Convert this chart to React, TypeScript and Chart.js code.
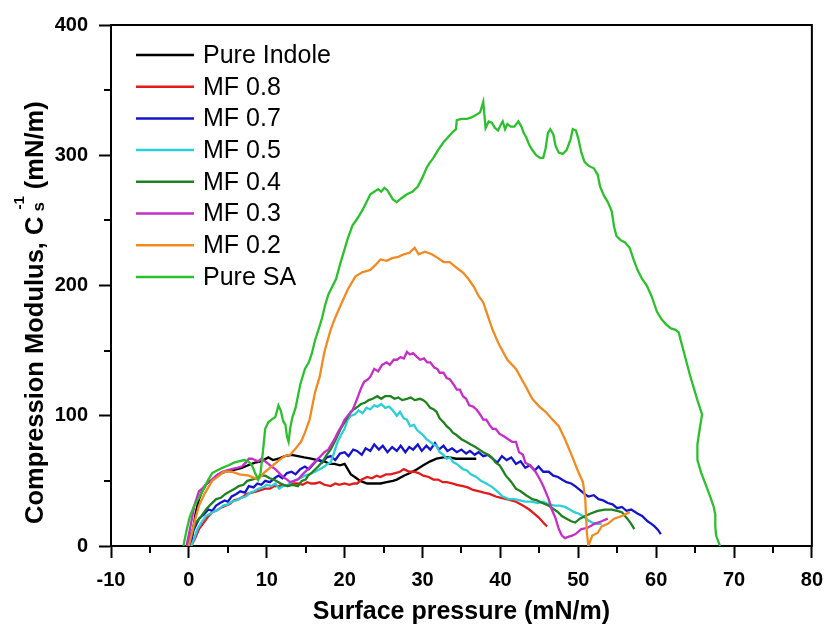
import React, { useEffect, useRef } from 'react';
import { Chart, registerables } from 'chart.js';

Chart.register(...registerables);

// ---------- Data ----------
const seriesNames = ['Pure Indole', 'MF 0.8', 'MF 0.7', 'MF 0.5', 'MF 0.4', 'MF 0.3', 'MF 0.2', 'Pure SA'];
const seriesColors = ['#000000', '#e31a1c', '#1414cc', '#2ccfd6', '#1e821e', '#c62fc6', '#f28a22', '#2cc12c'];

const xMin = -10;
const xMax = 80;
const xStep = 10;
const yMin = 0;
const yMax = 400;
const yStep = 100;

const xTitle = 'Surface pressure (mN/m)';
const yTitleMain = 'Compression Modulus, C';
const yTitleSub = 's';
const yTitleSup = '-1';
const yTitleTail = ' (mN/m)';

const pureIndole = [
  [0.2, 0], [0.5, 12], [0.9, 26], [1.3, 36], [1.7, 42], [2.3, 48], [3, 51], [3.8, 55], [4.7, 57], [5.5, 58],
  [6.2, 59], [6.8, 60], [7.6, 62], [8.5, 64], [9.3, 65], [10.2, 68], [10.8, 66], [11.5, 67], [12.3, 69], [13.2, 70],
  [14, 69], [14.8, 68], [15.7, 67], [16.5, 66], [17.4, 65], [18.1, 63], [18.7, 63], [19.4, 62], [20, 63], [20.4, 59],
  [20.8, 55], [21.3, 53], [22, 50], [22.9, 48], [23.8, 48], [24.6, 48], [25.4, 49], [26.2, 50], [26.7, 51], [27.6, 54],
  [28.4, 56], [29.3, 59], [30.1, 62], [31, 65], [31.8, 67], [32.7, 68], [33.5, 68], [34.3, 67], [35.2, 67], [36, 67],
  [36.9, 67],
];

const mf08 = [
  [0.3, 0], [0.8, 6], [1.3, 13], [1.8, 17], [2.4, 22], [3, 26], [3.5, 27], [4, 29], [4.7, 31], [5.2, 32],
  [5.8, 35], [6.4, 36], [7, 38], [7.5, 40], [8.1, 41], [8.7, 42], [9.3, 43], [9.8, 44], [10.4, 44], [11, 46],
  [11.5, 46], [12.1, 47], [12.7, 46], [13.3, 48], [14, 48], [14.6, 47], [15.2, 49], [15.7, 48], [16.2, 48], [16.8, 49],
  [17.4, 47], [18.2, 46], [18.8, 48], [19.3, 47], [20, 48], [20.6, 47], [21.2, 48], [21.6, 48], [22.2, 51], [22.9, 53],
  [23.5, 52], [24.1, 54], [24.6, 53], [25.3, 55], [25.9, 55], [26.5, 56], [27.1, 57], [27.6, 59], [28.3, 57], [28.9, 57],
  [29.5, 56], [30.1, 54], [30.8, 53], [31.4, 51], [32, 51], [32.6, 49], [33.1, 49], [33.8, 48], [34.4, 47], [35.2, 46],
  [35.8, 45], [36.5, 43], [37.3, 42], [37.9, 41], [38.6, 40], [39.4, 38], [40.1, 37], [40.8, 36], [41.4, 35], [42, 34],
  [42.6, 32], [43.2, 30], [43.7, 28], [44.3, 25], [44.9, 22], [45.5, 18], [46, 15],
];

const mf07 = [
  [0.2, 0], [0.6, 12], [1.3, 21], [1.9, 24], [2.5, 28], [3, 27], [3.5, 31], [4, 33], [4.6, 35], [5, 34],
  [5.5, 38], [6.1, 40], [6.6, 42], [7.2, 41], [7.7, 46], [8.3, 45], [8.8, 48], [9.3, 47], [9.8, 50], [10.4, 49],
  [11, 52], [11.5, 54], [12, 52], [12.6, 56], [13.2, 57], [13.7, 55], [14.3, 59], [14.9, 61], [15.4, 59], [16, 63],
  [16.6, 67], [17.1, 64], [17.7, 68], [18.2, 69], [18.8, 66], [19.4, 71], [20, 72], [20.5, 69], [21.1, 74], [21.6, 73],
  [22.2, 70], [22.7, 75], [23.3, 73], [23.8, 78], [24.4, 74], [24.9, 77], [25.5, 72], [26.1, 76], [26.7, 73], [27.2, 77],
  [27.8, 72], [28.3, 76], [28.8, 74], [29.4, 78], [29.9, 73], [30.5, 77], [31, 74], [31.6, 79], [32.1, 74], [32.7, 77],
  [33.2, 73], [33.8, 75], [34.4, 72], [35, 74], [35.6, 71], [36.1, 73], [36.7, 70], [37.2, 72], [37.8, 69], [38.4, 70],
  [39, 67], [39.6, 64], [40.2, 69], [40.8, 66], [41.4, 68], [42, 63], [42.6, 65], [43.2, 60], [43.8, 62], [44.4, 58],
  [44.9, 61], [45.5, 57], [46.2, 57], [46.8, 54], [47.4, 53], [47.9, 51], [48.5, 49], [49.1, 48], [49.6, 46], [50.2, 43],
  [50.8, 40], [51.3, 38], [52, 39], [52.6, 36], [53.2, 35], [53.8, 33], [54.4, 32], [55, 29], [55.6, 30], [56.2, 27],
  [56.8, 28], [57.6, 25], [58.2, 23], [58.9, 19], [59.4, 17], [59.8, 15], [60.3, 12], [60.6, 9],
];

const mf05 = [
  [0.3, 0], [0.7, 6], [1.1, 13], [1.6, 18], [2.2, 23], [2.8, 25], [3.4, 27], [3.8, 28], [4.4, 31], [5, 32],
  [5.5, 34], [6.1, 35], [6.7, 37], [7.3, 38], [7.9, 41], [8.4, 42], [8.9, 44], [9.5, 45], [10, 47], [10.6, 46],
  [11.1, 48], [11.6, 44], [12.1, 46], [12.7, 47], [13.2, 49], [13.8, 51], [14.3, 52], [14.9, 54], [15.5, 55], [16.2, 57],
  [16.8, 59], [17.4, 61], [17.8, 63], [18.2, 64], [18.6, 71], [19.1, 80], [19.6, 86], [20, 90], [20.4, 97], [20.8, 100],
  [21.3, 101], [21.8, 104], [22.3, 102], [22.8, 106], [23.3, 105], [23.8, 108], [24.2, 107], [24.7, 109], [25.2, 106], [25.7, 107],
  [26.2, 104], [26.7, 100], [27.1, 103], [27.6, 98], [28, 97], [28.4, 92], [28.9, 93], [29.3, 89], [29.7, 87], [30.1, 85],
  [30.5, 82], [31, 80], [31.4, 78], [31.8, 77], [32.2, 72], [32.7, 70], [33.1, 67], [33.5, 68], [34, 64], [34.4, 63],
  [34.8, 61], [35.2, 59], [35.7, 58], [36.2, 55], [36.9, 53], [37.5, 50], [38.2, 48], [39, 45], [39.6, 42], [40.3, 38],
  [41.1, 36], [41.8, 36], [42.5, 35], [43.2, 34], [44, 34], [44.8, 33], [45.5, 34], [46.2, 32], [47, 31], [47.6, 31],
  [48.3, 30], [48.9, 28], [49.5, 26], [50, 25], [50.6, 23], [51.2, 20], [51.8, 18], [52.4, 17], [53, 17],
];

const mf04 = [
  [-0.2, 0], [0.3, 10], [0.9, 18], [1.5, 22], [2.2, 28], [2.8, 32], [3.5, 36], [4.1, 37], [4.7, 40], [5.3, 42],
  [5.9, 44], [6.4, 46], [7, 47], [7.5, 50], [8.1, 51], [8.7, 52], [9.2, 54], [9.8, 54], [10.4, 52], [10.9, 51],
  [11.5, 49], [12.1, 47], [12.7, 46], [13.3, 47], [14, 46], [14.5, 50], [15, 51], [15.3, 54], [15.9, 57], [16.6, 61],
  [17.2, 65], [17.7, 70], [18.2, 74], [18.8, 81], [19.5, 90], [20.1, 96], [20.8, 103], [21.2, 105], [21.7, 107], [22.1, 109],
  [22.6, 110], [23.1, 112], [23.6, 113], [24.2, 115], [24.7, 113], [25.2, 115], [25.9, 115], [26.4, 113], [26.9, 114], [27.4, 112],
  [28, 113], [28.5, 114], [29, 112], [29.7, 113], [30.1, 112], [30.5, 110], [31, 106], [31.4, 105], [31.8, 103], [32.2, 98],
  [32.7, 95], [33.1, 92], [33.5, 90], [33.9, 87], [34.4, 85], [35, 82], [35.6, 80], [36.2, 78], [36.8, 76], [37.3, 74],
  [37.8, 72], [38.4, 70], [38.9, 68], [39.4, 64], [39.9, 62], [40.3, 58], [40.7, 54], [41.3, 50], [42, 44], [42.6, 42],
  [43.3, 39], [44.1, 36], [44.7, 35], [45.4, 33], [46.2, 31], [46.9, 28], [47.4, 26], [47.9, 23], [48.5, 21], [49.1, 19],
  [49.6, 18], [50.2, 21], [50.9, 23], [51.6, 25], [52.5, 27], [53.4, 28], [54.3, 28], [55, 27], [55.6, 26], [56, 23],
  [56.3, 21], [56.8, 17], [57.2, 13],
];

const mf03 = [
  [-0.3, 0], [0.2, 15], [0.7, 31], [1.3, 42], [1.7, 44], [2.3, 48], [3, 51], [3.5, 54], [4.3, 57], [4.9, 58],
  [5.5, 59], [6.2, 60], [6.8, 61], [7.3, 64], [7.7, 67], [8.1, 67], [8.5, 66], [8.9, 65], [9.3, 67], [9.8, 65],
  [10.2, 63], [10.6, 61], [11.1, 59], [11.6, 56], [12.1, 53], [12.6, 51], [13, 49], [13.5, 50], [14, 51], [14.6, 55],
  [15.3, 59], [15.9, 63], [16.6, 67], [17.4, 72], [17.9, 74], [18.2, 77], [18.7, 82], [19.1, 87], [19.6, 92], [20, 97],
  [20.4, 100], [21, 104], [21.6, 113], [22.1, 121], [22.5, 126], [23, 128], [23.3, 130], [23.8, 136], [24.3, 134], [24.8, 139],
  [25.4, 141], [25.8, 139], [26.3, 143], [26.7, 143], [27.2, 145], [27.6, 144], [28, 149], [28.4, 147], [28.8, 148], [29.3, 145],
  [29.7, 143], [30.2, 144], [30.6, 141], [31, 141], [31.5, 137], [31.9, 136], [32.2, 133], [32.7, 133], [33.1, 129], [33.5, 128],
  [34, 124], [34.4, 120], [34.8, 120], [35.2, 115], [35.6, 113], [36, 108], [36.5, 107], [36.9, 105], [37.4, 101], [37.8, 97],
  [38.2, 97], [38.6, 93], [39, 90], [39.4, 90], [39.9, 86], [40.5, 84], [41, 82], [41.5, 80], [42, 80], [42.4, 72],
  [42.9, 70], [43.2, 64], [43.8, 62], [44.5, 57], [45, 52], [45.5, 46], [46.2, 36], [46.6, 28], [47.1, 21], [47.5, 13],
  [47.9, 8], [48.3, 6], [48.7, 7], [49.2, 8], [49.6, 9], [50.4, 13], [51.2, 14], [52.1, 17], [53, 19], [53.8, 21],
];

const mf02 = [
  [0, 0], [0.7, 18], [1.3, 31], [2, 40], [3, 50], [3.9, 54], [4.5, 57], [5.5, 57], [6.5, 55], [7.7, 54],
  [8.9, 51], [9.6, 56], [10.6, 61], [11.4, 65], [12.3, 69], [13, 70], [13.6, 74], [14.4, 80], [14.9, 87], [15.5, 97],
  [16.2, 118], [16.8, 130], [17.4, 149], [18.2, 166], [18.7, 174], [19.5, 185], [20.4, 197], [21.4, 207], [22.2, 210], [23.3, 212],
  [24, 216], [24.6, 220], [25.4, 219], [26.1, 221], [26.9, 222], [27.6, 224], [28.3, 225], [29, 229], [29.5, 224], [30.3, 226],
  [31.2, 224], [32, 221], [32.7, 218], [33.5, 218], [34.3, 214], [35.2, 210], [35.9, 205], [36.6, 199], [37.2, 192], [37.8, 187],
  [38.2, 180], [39, 166], [39.8, 155], [40.9, 143], [42, 136], [43.2, 123], [44.1, 113], [45, 107], [45.8, 103], [46.7, 97],
  [47.5, 92], [48.3, 82], [49.2, 69], [50, 57], [50.6, 49], [50.9, 36], [51.1, 11], [51.3, 0], [51.8, 8], [52.5, 10],
  [53, 15], [53.8, 17], [54.6, 21], [55.6, 23], [56.6, 26],
];

const pureSA = [
  [-0.7, 0], [-0.3, 12], [0.1, 22], [0.6, 30], [1.3, 37], [2, 45], [2.5, 51], [3, 56], [3.6, 58], [4.3, 60],
  [5.1, 62], [5.8, 64], [6.4, 65], [7.1, 66], [7.6, 65], [8.1, 62], [8.5, 56], [8.9, 51], [9.2, 56], [9.5, 72],
  [9.8, 90], [10.2, 95], [10.6, 97], [11.1, 99], [11.5, 108], [11.8, 104], [12.1, 96], [12.4, 93], [12.6, 84], [12.8, 80],
  [13, 90], [13.3, 99], [13.7, 106], [14.3, 124], [14.9, 136], [15.4, 141], [15.8, 148], [16.2, 158], [16.7, 167], [17.1, 175],
  [17.5, 185], [17.9, 193], [18.4, 199], [18.9, 205], [19.4, 216], [19.9, 226], [20.4, 236], [21, 246], [21.7, 252], [22.3, 258],
  [22.8, 264], [23.3, 270], [23.8, 272], [24.3, 274], [24.7, 272], [25.1, 275], [25.5, 273], [25.9, 269], [26.2, 266], [26.7, 264],
  [27.3, 267], [28, 270], [28.7, 272], [29.4, 276], [30, 283], [30.5, 290], [30.9, 294], [31.4, 298], [32, 304], [32.7, 310],
  [33.3, 314], [33.9, 318], [34.3, 320], [34.4, 327], [35, 328], [35.7, 328], [36.3, 329], [36.9, 331], [37.4, 333], [37.8, 341],
  [38.1, 321], [38.5, 326], [38.9, 325], [39.3, 321], [39.7, 319], [40.1, 324], [40.3, 326], [40.6, 320], [40.9, 324], [41.3, 322],
  [41.8, 322], [42.3, 326], [42.7, 322], [43, 317], [43.3, 314], [43.7, 308], [44.1, 304], [44.6, 300], [45.1, 298], [45.5, 298],
  [45.8, 305], [46.1, 317], [46.4, 320], [46.8, 316], [47.1, 307], [47.5, 302], [48, 301], [48.5, 304], [49, 312], [49.3, 320],
  [49.7, 319], [50, 313], [50.4, 302], [50.8, 295], [51.3, 292], [52, 290], [52.5, 285], [52.8, 276], [53.3, 269], [53.8, 264],
  [54.3, 257], [54.6, 245], [54.9, 238], [55.4, 235], [56, 233], [56.6, 229], [57.1, 220], [57.6, 212], [58.2, 205], [58.8, 200],
  [59.4, 192], [60.1, 180], [60.7, 174], [61.3, 170], [61.9, 167], [62.5, 166], [62.9, 164], [63.2, 157], [63.6, 148], [64, 139],
  [64.4, 130], [64.9, 120], [65.4, 110], [65.9, 101], [65.6, 90], [65.3, 78], [65.3, 66], [65.8, 56], [66.5, 45], [67, 37],
  [67.4, 30], [67.6, 24], [67.6, 15], [67.7, 8], [68.2, 0],
];

const seriesData = [pureIndole, mf08, mf07, mf05, mf04, mf03, mf02, pureSA];

// ---------- Styling ----------
const FONT = "'Liberation Sans', Arial, Helvetica, sans-serif";

const decorPlugin = {
  id: 'decor',
  afterDraw(chart: any) {
    const ctx: CanvasRenderingContext2D = chart.ctx;
    const { left, right, top, bottom } = chart.chartArea;
    const xs = chart.scales.x;
    const ys = chart.scales.y;
    ctx.save();
    ctx.strokeStyle = '#000';
    ctx.lineWidth = 2;
    ctx.lineCap = 'butt';
    // top and right frame
    ctx.beginPath();
    ctx.moveTo(left - 1, top);
    ctx.lineTo(right, top);
    ctx.lineTo(right, bottom + 1);
    ctx.stroke();
    // minor ticks
    ctx.beginPath();
    for (let v = xMin + xStep / 2; v < xMax; v += xStep) {
      const px = Math.round(xs.getPixelForValue(v));
      ctx.moveTo(px, bottom);
      ctx.lineTo(px, bottom + 7);
    }
    for (let v = yMin + yStep / 2; v < yMax; v += yStep) {
      const py = Math.round(ys.getPixelForValue(v));
      ctx.moveTo(left, py);
      ctx.lineTo(left - 7, py);
    }
    ctx.stroke();

    // legend inside plot area
    const rowH = 31.7;
    ctx.font = `25px ${FONT}`;
    ctx.textBaseline = 'middle';
    ctx.textAlign = 'left';
    chart.data.datasets.forEach((ds: any, i: number) => {
      const y = top + 30 + i * rowH;
      ctx.strokeStyle = ds.borderColor;
      ctx.lineWidth = 2.5;
      ctx.beginPath();
      ctx.moveTo(left + 25, y);
      ctx.lineTo(left + 83, y);
      ctx.stroke();
      ctx.fillStyle = '#000';
      ctx.fillText(ds.label, left + 92, y + 1);
    });

    // y-axis title with subscript / superscript
    const baseX = 43;
    const startY = 524;
    ctx.translate(baseX, startY);
    ctx.rotate(-Math.PI / 2);
    ctx.fillStyle = '#000';
    ctx.textBaseline = 'alphabetic';
    ctx.font = `bold 25.5px ${FONT}`;
    ctx.fillText(yTitleMain, 0, 0);
    let adv = ctx.measureText(yTitleMain).width + 4;
    ctx.font = `bold 17px ${FONT}`;
    ctx.fillText(yTitleSub, adv + 1, 1);
    const wSub = ctx.measureText(yTitleSub).width + 1;
    ctx.font = `bold 15px ${FONT}`;
    ctx.fillText(yTitleSup, adv + 3, -19);
    const wSup = ctx.measureText(yTitleSup).width + 3;
    adv += Math.max(wSub, wSup);
    ctx.font = `bold 25.5px ${FONT}`;
    ctx.fillText(yTitleTail, adv, 0);
    ctx.restore();
  },
};

export default function App() {
  const canvasRef = useRef<HTMLCanvasElement | null>(null);

  useEffect(() => {
    if (!canvasRef.current) return;
    const chart = new Chart(canvasRef.current, {
      type: 'line',
      data: {
        datasets: seriesNames.map((name, i) => ({
          label: name,
          data: seriesData[i].map(([x, y]) => ({ x, y })),
          borderColor: seriesColors[i],
          backgroundColor: seriesColors[i],
          borderWidth: 2.3,
          pointRadius: 0,
          pointHoverRadius: 0,
          fill: false,
          tension: 0,
          order: seriesNames.length - i,
        })),
      },
      options: {
        animation: false,
        responsive: false,
        events: [],
        layout: { padding: { left: 50, right: 14, top: 25, bottom: 0 } },
        plugins: {
          legend: { display: false },
          tooltip: { enabled: false },
          title: { display: false },
        },
        scales: {
          x: {
            type: 'linear',
            min: xMin,
            max: xMax,
            afterFit: (s: any) => {
              s.height = 79;
            },
            ticks: {
              stepSize: xStep,
              padding: 10,
              color: '#000',
              font: { family: FONT, size: 20, weight: 'bold' },
              maxRotation: 0,
            },
            grid: {
              display: true,
              drawOnChartArea: false,
              drawTicks: true,
              tickLength: 12,
              tickWidth: 2,
              tickColor: '#000',
            },
            border: { display: true, color: '#000', width: 2 },
            title: {
              display: true,
              text: xTitle,
              color: '#000',
              font: { family: FONT, size: 25, weight: 'bold', lineHeight: 1 },
              padding: { top: 0, bottom: 0 },
            },
          },
          y: {
            type: 'linear',
            min: yMin,
            max: yMax,
            afterFit: (s: any) => {
              s.width = 61;
            },
            ticks: {
              stepSize: yStep,
              padding: 11,
              color: '#000',
              font: { family: FONT, size: 20, weight: 'bold' },
            },
            grid: {
              display: true,
              drawOnChartArea: false,
              drawTicks: true,
              tickLength: 12,
              tickWidth: 2,
              tickColor: '#000',
            },
            border: { display: true, color: '#000', width: 2 },
          },
        },
      },
      plugins: [decorPlugin],
    });
    return () => chart.destroy();
  }, []);

  return (
    <div style={{ position: 'fixed', left: 0, top: 0, width: 833, height: 625, background: '#fff' }}>
      <canvas ref={canvasRef} width={833} height={625} style={{ display: 'block', width: 833, height: 625 }} />
    </div>
  );
}
